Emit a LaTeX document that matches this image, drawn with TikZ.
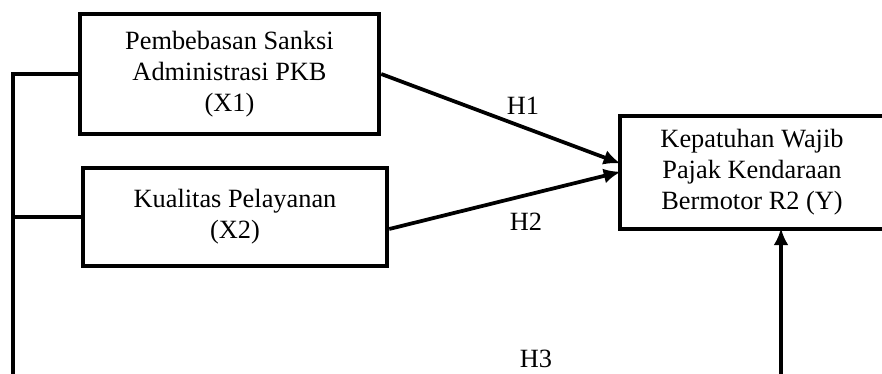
\documentclass[tikz,border=0pt]{standalone}
\usepackage{fontspec}
\setmainfont{Liberation Serif}
\usetikzlibrary{arrows.meta,positioning,calc}
\tikzset{
    % Variable frame styles
    varbox/.style={
        rectangle, draw=black, line width=0.09cm,
        align=center, inner sep=0pt,
        font=\fontsize{15}{17.6}\selectfont
    },
    link/.style={
        line width=0.075cm
    },
    hyplink/.style={
        link, -{Latex[length=0.34cm,width=0.3cm]}, shorten >=-0.06cm
    },
    hyplabel/.style={
        font=\fontsize{15}{17.6}\selectfont, inner sep=0pt
    }
}
\begin{document}
\begin{tikzpicture}[x=0.02cm, y=-0.02cm]
\useasboundingbox (0,0) rectangle (882,374);

% Independent variables
\node[varbox, minimum width=5.98cm, minimum height=2.4cm] (sanksi) at (229.5,74) {Pembebasan Sanksi\\Administrasi PKB\\(X1)};
\node[varbox, minimum width=6.08cm, minimum height=1.96cm] (layanan) at (235,217) {Kualitas Pelayanan\\(X2)};

% Dependent variable
\node[varbox, minimum width=5.28cm, minimum height=2.26cm] (patuh) at (752,172.5) {Kepatuhan Wajib\\Pajak Kendaraan\\Bermotor R2 (Y)};

% Corners of the joint path
\coordinate (bl) at (13,375.6);
\coordinate (br) at (781,375.6);

% Partial hypotheses
\draw[hyplink] (sanksi.east) -- ([yshift=0.2cm]patuh.west);
\draw[hyplink] ([yshift=-0.24cm]layanan.east) -- (patuh.west);

% Simultaneous hypothesis
\draw[link] (sanksi.west) -| (bl) -- (br);
\draw[link] (layanan.west) -- (layanan.west -| bl);
\draw[hyplink] (br) -- (br |- patuh.south);

% Hypothesis labels
\node[hyplabel] (h1) at (523,106) {H1};
\node[hyplabel] (h2) at (526,222) {H2};
\node[hyplabel] (h3) at (536,359) {H3};

\end{tikzpicture}
\end{document}
